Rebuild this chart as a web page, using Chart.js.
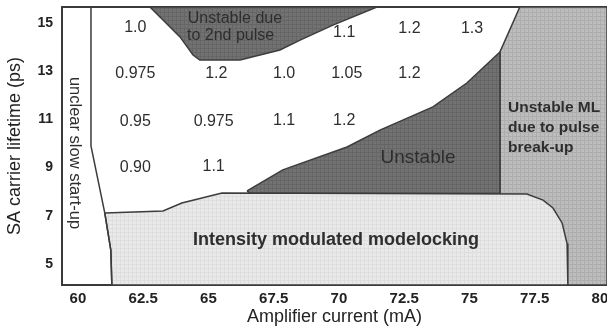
<!DOCTYPE html>
<html>
<head>
<meta charset="utf-8">
<script src="https://cdn.jsdelivr.net/npm/chart.js@4/dist/chart.umd.min.js"></script>
<style>
  html, body { margin: 0; padding: 0; background: #fff; }
</style>
</head>
<body>
<canvas id="map" width="607" height="334"></canvas>
<script>
// Operating map of the laser: amplifier current (mA) vs SA carrier lifetime (ps).
const FONT = '"Liberation Sans", Arial, sans-serif';

const xTicks = [60, 62.5, 65, 67.5, 70, 72.5, 75, 77.5, 80];
const yTicks = [5, 7, 9, 11, 13, 15];

// Region outlines as [current mA, lifetime ps].
const startupEdge = [[60.5, 15.65], [60.5, 9.89], [61.03, 7.11], [61.26, 5.58], [61.3, 4.13]];
const modelockEdge = [
  [61.03, 7.11], [63.26, 7.2], [63.98, 7.53], [65.52, 7.94], [77.2, 7.9], [77.82, 7.65],
  [78.2, 7.32], [78.55, 6.7], [78.74, 5.85], [78.77, 4.13], [61.3, 4.13], [61.26, 5.58],
];
const secondPulseEdge = [
  [62.76, 15.65], [63.26, 15.11], [63.91, 14.41], [64.41, 13.66], [64.67, 13.45], [66.21, 13.45],
  [67.74, 13.87], [68.51, 14.28], [69.77, 14.9], [71.46, 15.65],
];
const unstableEdge = [
  [66.48, 8.03], [67.85, 8.9], [70.31, 9.85], [71.57, 10.55], [73.6, 11.51], [74.9, 12.5],
  [76.17, 13.79], [76.17, 7.92], [66.6, 7.92],
];
const breakupEdge = [[76.17, 13.79], [76.93, 15.65], [80.27, 15.65], [80.27, 4.13], [76.17, 4.13]];

// Measured values printed inside the stable region.
const valueCurrent = [62.2, 70.2, 72.7, 75.1, 62.2, 65.3, 67.9, 70.3, 72.7, 62.2, 65.2, 67.9, 70.2, 62.2, 65.2];
const valueLifetime = [14.78, 14.6, 14.74, 14.74, 12.9, 12.9, 12.9, 12.9, 12.9, 10.92, 10.92, 10.95, 10.95, 8.98, 9.05];
const valueLabels = ['1.0', '1.1', '1.2', '1.3', '0.975', '1.2', '1.0', '1.05', '1.2', '0.95', '0.975', '1.1', '1.2', '0.90', '1.1'];

// Region names, placed in data units.
const regionLabels = [
  { text: 'Unstable due', x: 64.21, y: 15.19, size: 16, align: 'left' },
  { text: 'to 2nd pulse', x: 64.18, y: 14.45, size: 16, align: 'left' },
  { text: 'Unstable', x: 73.03, y: 9.39, size: 19, align: 'center' },
  { text: 'Unstable ML', x: 76.48, y: 11.46, size: 15.5, align: 'left', bold: true },
  { text: 'due to pulse', x: 76.48, y: 10.64, size: 15.5, align: 'left', bold: true },
  { text: 'break-up', x: 76.48, y: 9.81, size: 15.5, align: 'left', bold: true },
  { text: 'Intensity modulated modelocking', x: 69.89, y: 5.99, size: 18, align: 'center', bold: true },
  { text: 'unclear slow start-up', x: 59.885, y: 9.6, size: 16.5, align: 'center', rotate: true },
];

// Halftone-ish fill like the scanned figure.
function texture(base, line) {
  const c = document.createElement('canvas');
  c.width = c.height = 4;
  const g = c.getContext('2d');
  g.fillStyle = base;
  g.fillRect(0, 0, 4, 4);
  g.fillStyle = line;
  g.fillRect(0, 0, 4, 1);
  g.fillRect(0, 0, 1, 4);
  return g.createPattern(c, 'repeat');
}

const toPoints = (edge) => edge.map(([x, y]) => ({ x, y }));

function region(edge, fill, order) {
  const pts = toPoints(edge);
  pts.push(pts[0]); // close the outline
  return {
    data: pts, showLine: true, fill: 'shape', backgroundColor: fill,
    borderColor: '#3c3c3c', borderWidth: 1.5, pointRadius: 0, tension: 0, order,
  };
}

const textPlugin = {
  id: 'mapText',
  afterDatasetsDraw(chart) {
    const ctx = chart.ctx;
    const { x, y } = chart.scales;
    ctx.save();
    ctx.textBaseline = 'middle';
    ctx.fillStyle = '#2e2e2e';
    // numbers, from the value dataset's points
    const meta = chart.getDatasetMeta(chart.data.datasets.length - 1);
    ctx.font = '16px ' + FONT;
    ctx.textAlign = 'center';
    meta.data.forEach((pt, i) => ctx.fillText(valueLabels[i], pt.x, pt.y));
    for (const r of regionLabels) {
      ctx.font = (r.bold ? 'bold ' : '') + r.size + 'px ' + FONT;
      ctx.textAlign = r.align;
      const px = x.getPixelForValue(r.x);
      const py = y.getPixelForValue(r.y);
      if (r.rotate) {
        ctx.save();
        ctx.translate(px, py);
        ctx.rotate(Math.PI / 2);
        ctx.fillText(r.text, 0, 0);
        ctx.restore();
      } else {
        ctx.fillText(r.text, px, py);
      }
    }
    ctx.restore();
  },
};

const tickFont = (size) => ({ family: FONT, size, weight: 'bold' });

new Chart(document.getElementById('map'), {
  type: 'scatter',
  data: {
    datasets: [
      region(breakupEdge, texture('#bdbdbd', '#adadad'), 6),
      region(unstableEdge, texture('#727272', '#666666'), 5),
      region(modelockEdge, texture('#e9e9e9', '#dedede'), 4),
      region(secondPulseEdge, texture('#727272', '#666666'), 3),
      { data: toPoints(startupEdge), showLine: true, fill: false, borderColor: '#3c3c3c', borderWidth: 1.5, pointRadius: 0, order: 2 },
      { data: valueCurrent.map((x, i) => ({ x, y: valueLifetime[i] })), pointRadius: 0, order: 1 },
    ],
  },
  options: {
    responsive: false,
    animation: false,
    layout: { padding: { top: 7, right: 0, left: 0, bottom: 0 } },
    plugins: { legend: { display: false }, tooltip: { enabled: false } },
    scales: {
      x: {
        type: 'linear', min: 59.39, max: 80.27,
        afterBuildTicks: (s) => { s.ticks = xTicks.map((value) => ({ value })); },
        afterFit: (s) => { s.height = 49; s.paddingLeft = 0; s.paddingRight = 0; },
        grid: { display: false, drawTicks: false },
        border: { display: true, color: '#3a3a3a', width: 2 },
        ticks: { font: tickFont(15), color: '#222', padding: 5, maxRotation: 0, callback: (v) => String(v) },
        title: { display: true, text: 'Amplifier current (mA)', font: { family: FONT, size: 18 }, color: '#222', padding: { top: 0, bottom: 6 } },
      },
      top: {
        type: 'linear', position: 'top', min: 59.39, max: 80.27,
        afterFit: (s) => { s.height = 0; },
        grid: { display: false, drawTicks: false },
        border: { display: true, color: '#3a3a3a', width: 2 },
        ticks: { display: false },
      },
      y: {
        type: 'linear', min: 4.13, max: 15.65,
        afterBuildTicks: (s) => { s.ticks = yTicks.map((value) => ({ value })); },
        afterFit: (s) => { s.width = 62; s.paddingTop = 0; s.paddingBottom = 0; },
        grid: { display: false, drawTicks: false },
        border: { display: true, color: '#3a3a3a', width: 2 },
        ticks: { font: tickFont(14), color: '#222', padding: 9, callback: (v) => String(v) },
        title: { display: true, text: 'SA carrier lifetime (ps)', font: { family: FONT, size: 18 }, color: '#222', padding: { top: 4, bottom: 0 } },
      },
    },
  },
  plugins: [textPlugin],
});
</script>
</body>
</html>
